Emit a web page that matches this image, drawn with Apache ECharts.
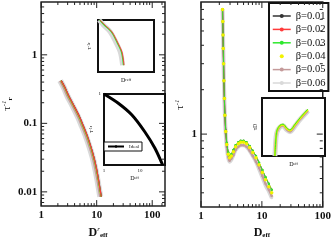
<!DOCTYPE html>
<html><head><meta charset="utf-8">
<script src="https://cdn.jsdelivr.net/npm/echarts@6/dist/echarts.min.js"></script>
<style>html,body{margin:0;padding:0;background:#fff}#c{width:334px;height:244px}</style>
</head><body><div id="c"></div>
<script>
// ---------- data ----------
const betaNames = ['β=0.01','β=0.02','β=0.03','β=0.04','β=0.05','β=0.06'];
const betaColors = ['#333333','#ff3b3b','#2ee82e','#f2f200','#c49a9a','#d9d9d9'];

// right main panel: tau^-1 vs D_eff
const rightD = [2.26,2.28,2.30,2.32,2.35,2.38,2.42,2.47,2.55,2.65,2.8,2.95,3.15,3.4,3.7,4.1,4.5,5.0,5.6,6.3,7.1,8.0,9.0,10.2,11.5,13.0,14.5];
const rightTau001 = [7.0,5.8,4.7,3.8,3.0,2.3,1.76,1.36,1.06,0.87,0.75,0.71,0.73,0.78,0.84,0.88,0.90,0.90,0.88,0.83,0.77,0.71,0.64,0.57,0.51,0.46,0.42];
const rightTau002 = [7.0,5.8,4.7,3.8,3.0,2.3,1.75,1.35,1.05,0.87,0.75,0.71,0.73,0.78,0.84,0.88,0.90,0.90,0.88,0.83,0.77,0.71,0.64,0.57,0.51,0.46,0.42];
const rightTau003 = [7.0,5.8,4.7,3.8,3.0,2.3,1.75,1.35,1.05,0.87,0.75,0.71,0.73,0.78,0.84,0.88,0.90,0.90,0.88,0.83,0.77,0.71,0.64,0.57,0.51,0.46,0.42];
const rightTau004 = [7.0,5.8,4.7,3.8,3.0,2.3,1.74,1.34,1.04,0.85,0.73,0.69,0.71,0.76,0.82,0.86,0.88,0.88,0.86,0.81,0.75,0.69,0.62,0.55,0.49,0.44,0.40];
const rightTau005 = [7.0,5.8,4.7,3.8,3.0,2.3,1.72,1.31,1.01,0.82,0.70,0.66,0.68,0.72,0.78,0.82,0.84,0.84,0.82,0.77,0.71,0.65,0.59,0.52,0.46,0.42,0.38];
const rightTau006 = [7.0,5.8,4.7,3.8,3.0,2.3,1.72,1.31,1.00,0.81,0.69,0.65,0.67,0.72,0.78,0.82,0.84,0.84,0.82,0.77,0.71,0.65,0.58,0.51,0.45,0.41,0.37];

// left main panel: tau_r^-1 vs D^r_eff
const leftTau = [0.42,0.33,0.25,0.18,0.125,0.09,0.065,0.045,0.032,0.022,0.015,0.0105,0.0085];
const leftD001 = [2.3,2.7,3.15,3.9,4.9,5.8,6.8,7.9,8.9,9.9,10.8,11.6,12.1];
const leftD002 = [2.3,2.7,3.15,3.9,4.9,5.8,6.8,7.9,8.9,9.9,10.8,11.6,12.1];
const leftD003 = [2.28,2.67,3.1,3.85,4.82,5.7,6.7,7.8,8.8,9.8,10.7,11.5,12.0];
const leftD004 = [2.27,2.66,3.09,3.83,4.8,5.68,6.67,7.77,8.77,9.77,10.65,11.45,11.95];
const leftD005 = [2.22,2.6,3.02,3.74,4.68,5.55,6.52,7.6,8.6,9.55,10.45,11.25,11.75];
const leftD006 = [2.2,2.57,2.98,3.68,4.6,5.45,6.4,7.45,8.45,9.4,10.3,11.1,11.6];

// upper-left inset
const insAY = [1.0,0.90,0.77,0.56,0.38,0.13];
const insAX002 = [0.7,2.5,5.0,7.1,8.6,9.3];
const insAX003 = [0.6,2.3,4.8,6.9,8.4,9.1];
const insAX006 = [0.4,2.0,4.4,6.5,8.0,8.8];

// lower-left inset (Ideal)
const idealD = [1,2.45,6.0,13.8,26,43];
const idealTau = [1,0.557,0.256,0.085,0.030,0.010];

// right inset
const insBX = [4.1,4.3,4.5,4.8,5.7,6.7,7.9,8.9,10.5,12.1,14.6];
const insBY003 = [0.0,0.2,0.35,0.45,0.53,0.55,0.48,0.45,0.55,0.66,0.81];
const insBY004 = [0.0,0.2,0.35,0.44,0.52,0.54,0.47,0.44,0.54,0.65,0.80];
const insBY005 = [0.0,0.2,0.34,0.42,0.50,0.52,0.45,0.42,0.52,0.63,0.78];
const insBY006 = [0.0,0.2,0.34,0.42,0.50,0.52,0.45,0.42,0.52,0.63,0.78];

// tick positions
const xMajorTicks = [1,10,100];
const xMinorLeft = [2,3,4,5,6,7,8,9,20,30,40,50,60,70,80,90,150];
const xMinorRight = [2,3,4,5,6,7,8,9,20,30,40,50,60,70,80,90];
const yMajorLeft = [0.01,0.1,1];
const yMinorLeft = [0.007,0.008,0.009,0.02,0.03,0.04,0.05,0.06,0.07,0.08,0.09,0.2,0.3,0.4,0.5,0.6,0.7,0.8,0.9,2,3,4,5];
const yMajorRight = [1];
const yMinorRight = [0.4,0.5,0.6,0.7,0.8,0.9,2,3,4,5,6,7];
const xLabelsMain = {'1':'1','10':'10','100':'100'};
const yLabelsLeft = {'0.01':'0.01','0.1':'0.1','1':'1'};
const yLabelsRight = {'1':'1'};

// ---------- helpers ----------
const SERIF = 'Liberation Serif, Times New Roman, serif';
function zip(a,b){ return a.map((v,i)=>[v,b[i]]); }
function powLabel(map){
  return function(v){
    const l = Math.log10(v);
    if (Math.abs(l-Math.round(l))>1e-6) return '';
    const key = String(Math.pow(10, Math.round(l)).toPrecision(1)*1);
    return map[key] || '';
  };
}
function tickSeries(idx, xMaj, xMin, yMaj, yMin, x0, y0){
  const data = [];
  xMaj.forEach(v=>data.push([v,y0,1]));
  xMin.forEach(v=>data.push([v,y0,0]));
  yMaj.forEach(v=>data.push([x0,v,3]));
  yMin.forEach(v=>data.push([x0,v,2]));
  return {type:'custom', xAxisIndex:idx, yAxisIndex:idx, silent:true, z:6, clip:false,
    encode:{x:0,y:1}, data,
    renderItem(params, api){
      const cs = params.coordSys; const t = api.value(2);
      const p = api.coord([api.value(0), api.value(1)]);
      const len = (t===1||t===3)?6:3;
      const style = {stroke:'#222', lineWidth:1};
      if (t<2) return {type:'group', children:[
        {type:'line', shape:{x1:p[0],y1:cs.y+cs.height,x2:p[0],y2:cs.y+cs.height-len}, style},
        {type:'line', shape:{x1:p[0],y1:cs.y,x2:p[0],y2:cs.y+len}, style}]};
      return {type:'group', children:[
        {type:'line', shape:{x1:cs.x,y1:p[1],x2:cs.x+len,y2:p[1]}, style},
        {type:'line', shape:{x1:cs.x+cs.width,y1:p[1],x2:cs.x+cs.width-len,y2:p[1]}, style}]};
    }};
}
const richT = {
  b:{fontFamily:SERIF, fontSize:12, fontWeight:'bold', color:'#111'},
  sup:{fontFamily:SERIF, fontSize:7, fontStyle:'italic', color:'#111', verticalAlign:'top', padding:[0,0,6,0]},
  sub:{fontFamily:SERIF, fontSize:7, fontWeight:'bold', color:'#111', verticalAlign:'bottom', padding:[4,0,0,0]},
  t:{fontFamily:SERIF, fontSize:11, color:'#111'},
  st:{fontFamily:SERIF, fontSize:6, color:'#111'},
  ss:{fontFamily:SERIF, fontSize:4, color:'#111'}
};
function hidAxis(){ return {show:true, axisLine:{show:false}, axisTick:{show:false}, axisLabel:{show:false}, splitLine:{show:false}}; }

const mainLabel = {fontFamily:SERIF, fontSize:11, fontWeight:'bold', color:'#111'};

const series = [];
// right main panel series (first so legend picks their icons)
const rightTaus = [rightTau001,rightTau002,rightTau003,rightTau004,rightTau005,rightTau006];
const rOrder = [5,4,0,1,2,3];
const rWidth = [0.8,0.8,1,0,2,4];
const rSym = [2,2,2.5,3.5,2.5,3];
rOrder.forEach((i,k)=>{
  series.push({type:'line', name:betaNames[i], xAxisIndex:1, yAxisIndex:1, data:zip(rightD,rightTaus[i]),
    smooth:0.3, symbol:'circle', symbolSize:rSym[i], showSymbol:true,
    itemStyle:{color:betaColors[i]}, lineStyle:{color:betaColors[i], width:rWidth[i]},
    z: 2+k, animation:false});
});
// left main
const leftDs = [leftD001,leftD002,leftD003,leftD004,leftD005,leftD006];
[5,4,3,0,2,1].forEach((i,k)=>{
  series.push({type:'line', name:betaNames[i], xAxisIndex:0, yAxisIndex:0, data:zip(leftDs[i],leftTau),
    smooth:0.3, showSymbol:false, symbol:'none',
    lineStyle:{color:betaColors[i], width: i===5?6:(i===4?3:1.2)}, z:2+k, animation:false});
});
// upper-left inset
[[5,insAX006,5],[2,insAX003,1.3],[1,insAX002,1]].forEach(([i,xs,w],k)=>{
  series.push({type:'line', name:betaNames[i], xAxisIndex:2, yAxisIndex:2, data:zip(xs,insAY),
    smooth:0.3, showSymbol:false, symbol:'none', lineStyle:{color:betaColors[i], width:w}, z:3+k, animation:false});
});
// lower-left inset
series.push({type:'line', name:'Ideal', xAxisIndex:3, yAxisIndex:3, data:zip(idealD,idealTau),
  smooth:0.3, symbol:'circle', symbolSize:3, showSymbol:false, itemStyle:{color:'#000'},
  lineStyle:{color:'#000', width:3}, z:3, animation:false});
// right inset
[[5,insBY006,5],[4,insBY005,2],[3,insBY004,2],[2,insBY003,1]].forEach(([i,ys,w],k)=>{
  series.push({type:'line', name:betaNames[i], xAxisIndex:4, yAxisIndex:4, data:zip(insBX,ys),
    smooth:0.3, showSymbol:false, symbol:'none', lineStyle:{color:betaColors[i], width:w}, z:3+k, animation:false});
});
// ticks
series.push(tickSeries(0, xMajorTicks, xMinorLeft, yMajorLeft, yMinorLeft, 1, 0.0062));
series.push(tickSeries(1, xMajorTicks, xMinorRight, yMajorRight, yMinorRight, 1, 0.32));

const legendIconW = [1.5,1.5,1.5,0,1.5,1.5];
const option = {
  animation:false,
  backgroundColor:'#fff',
  grid:[
    {left:40, top:2, width:125, height:213, show:true, borderColor:'#222', borderWidth:1.5, backgroundColor:'transparent'},
    {left:201, top:2, width:124, height:213, show:true, borderColor:'#222', borderWidth:1.5, backgroundColor:'transparent'},
    {left:98, top:20, width:56, height:52, show:true, borderColor:'#111', borderWidth:2, backgroundColor:'#fff'},
    {left:104, top:94, width:61, height:71, show:true, borderColor:'#111', borderWidth:2, backgroundColor:'#fff'},
    {left:262, top:98, width:63, height:58, show:true, borderColor:'#111', borderWidth:2, backgroundColor:'#fff'}
  ],
  xAxis:[
    {type:'log', gridIndex:0, min:1, max:170, axisLine:{show:false}, axisTick:{show:false}, splitLine:{show:false},
      axisLabel:Object.assign({margin:4, formatter:powLabel(xLabelsMain), showMinLabel:true, showMaxLabel:true, hideOverlap:false}, mainLabel),
      name:'{b|D}{sup|r}{sub|eff}', nameLocation:'middle', nameGap:19, nameTextStyle:{rich:richT, padding:[0,10,0,0]}},
    {type:'log', gridIndex:1, min:1, max:100, axisLine:{show:false}, axisTick:{show:false}, splitLine:{show:false},
      axisLabel:Object.assign({margin:4, formatter:powLabel(xLabelsMain), showMinLabel:true, showMaxLabel:true}, mainLabel),
      name:'{b|D}{sub|eff}', nameLocation:'middle', nameGap:19, nameTextStyle:{rich:richT}},
    Object.assign(hidAxis(), {type:'value', gridIndex:2, min:0, max:20, name:'{st|D}{ss|r}{ss|eff}', nameLocation:'middle', nameGap:5, nameTextStyle:{rich:richT}}),
    {type:'log', gridIndex:3, min:1, max:50, axisLine:{show:false}, axisTick:{show:false}, splitLine:{show:false},
      axisLabel:{margin:3, fontFamily:SERIF, fontSize:5, color:'#111', formatter:powLabel({'1':'1','10':'10'}), showMinLabel:true},
      name:'{st|D}{ss|eff}', nameLocation:'middle', nameGap:10, nameTextStyle:{rich:richT}},
    Object.assign(hidAxis(), {type:'value', gridIndex:4, min:0, max:20, name:'{st|D}{ss|eff}', nameLocation:'middle', nameGap:5, nameTextStyle:{rich:richT}})
  ],
  yAxis:[
    {type:'log', gridIndex:0, min:0.0062, max:5.9, axisLine:{show:false}, axisTick:{show:false}, splitLine:{show:false},
      axisLabel:Object.assign({margin:4, formatter:powLabel(yLabelsLeft), showMinLabel:true, showMaxLabel:true}, mainLabel),
      name:'{t|τ}{sup|-1}{sub|r}', nameLocation:'middle', nameGap:24, nameTextStyle:{rich:richT}},
    {type:'log', gridIndex:1, min:0.32, max:7.86, axisLine:{show:false}, axisTick:{show:false}, splitLine:{show:false},
      axisLabel:Object.assign({margin:4, formatter:powLabel(yLabelsRight)}, mainLabel),
      name:'{t|τ}{sup|-1}', nameLocation:'middle', nameGap:14, nameTextStyle:{rich:richT}},
    Object.assign(hidAxis(), {type:'value', gridIndex:2, min:0, max:1, name:'{st|τ}{ss|-1}{ss|r}', nameLocation:'middle', nameGap:6, nameTextStyle:{rich:richT}}),
    {type:'log', gridIndex:3, min:0.01, max:1, axisLine:{show:false}, axisTick:{show:false}, splitLine:{show:false},
      axisLabel:{margin:3, fontFamily:SERIF, fontSize:5, color:'#111', formatter:powLabel({'1':'1'}), showMaxLabel:true},
      name:'{st|τ}{ss|-1}{ss|r}', nameLocation:'middle', nameGap:10, nameTextStyle:{rich:richT}},
    Object.assign(hidAxis(), {type:'value', gridIndex:4, min:0, max:1, name:'{st|τD}', nameLocation:'middle', nameGap:4, nameTextStyle:{rich:richT}})
  ],
  legend:[
    {data:betaNames.map((n,i)=>({name:n, lineStyle:{width:legendIconW[i]}})), orient:'vertical', left:269, top:3, itemWidth:18, itemHeight:5, itemGap:1.4,
      padding:[7,3,2,3], borderColor:'#111', borderWidth:2, backgroundColor:'#fff',
      textStyle:{fontFamily:SERIF, fontSize:10.5, color:'#111', lineHeight:12}, selectedMode:false},
    {data:['Ideal'], orient:'horizontal', left:104, top:142, itemWidth:16, itemHeight:3, padding:[2,3,2,3],
      borderColor:'#111', borderWidth:1, backgroundColor:'#fff',
      textStyle:{fontFamily:SERIF, fontSize:5, color:'#111'}, selectedMode:false}
  ],
  series
};
const chart = echarts.init(document.getElementById('c'), null, {renderer:'canvas'});
chart.setOption(option);
</script></body></html>
